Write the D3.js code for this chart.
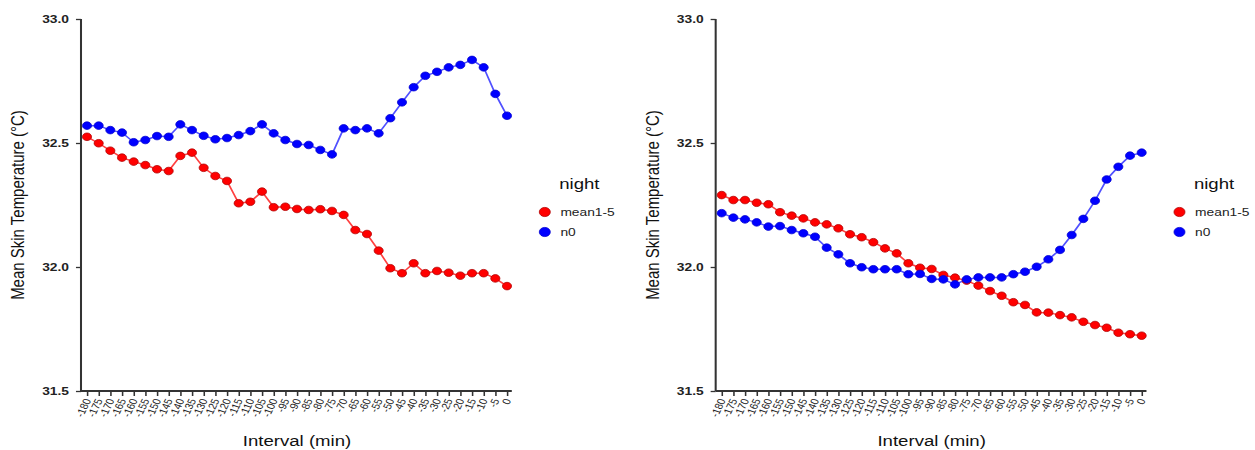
<html>
<head>
<script src="https://d3js.org/d3.v7.min.js"></script>
<style>
body { margin: 0; background: #fff; }
text { font-family: "Liberation Sans", Arial, sans-serif; }
</style>
</head>
<body>
<div class="chart"></div>
<script>
// x categories (minutes before sleep end) and y ticks
var intervals = [-180, -175, -170, -165, -160, -155, -150, -145, -140, -135, -130, -125, -120, -115, -110, -105, -100, -95, -90,
                 -85, -80, -75, -70, -65, -60, -55, -50, -45, -40, -35, -30, -25, -20, -15, -10, -5, 0];
var yTicks = [31.5, 32.0, 32.5, 33.0];
var groups = ["mean1-5", "n0"];

// left panel
var leftMean = [32.525, 32.499, 32.469, 32.441, 32.425, 32.411, 32.394, 32.387, 32.448, 32.461, 32.400, 32.367, 32.347, 32.257, 32.263, 32.304, 32.241, 32.243, 32.234,
                32.230, 32.233, 32.226, 32.210, 32.149, 32.133, 32.066, 31.995, 31.975, 32.015, 31.975, 31.984, 31.977, 31.965, 31.975, 31.975, 31.954, 31.923];
var leftN0 = [32.570, 32.570, 32.552, 32.542, 32.503, 32.512, 32.528, 32.525, 32.575, 32.552, 32.529, 32.515, 32.520, 32.532, 32.548, 32.575, 32.539, 32.512, 32.496,
              32.492, 32.472, 32.454, 32.559, 32.552, 32.559, 32.539, 32.600, 32.664, 32.725, 32.771, 32.787, 32.805, 32.815, 32.835, 32.805, 32.698, 32.610];
// right panel
var rightMean = [32.290, 32.270, 32.270, 32.259, 32.253, 32.221, 32.207, 32.196, 32.180, 32.172, 32.156, 32.132, 32.120, 32.100, 32.075, 32.055, 32.015, 31.997, 31.992,
                 31.968, 31.957, 31.945, 31.925, 31.903, 31.884, 31.858, 31.847, 31.817, 31.816, 31.806, 31.797, 31.779, 31.766, 31.755, 31.735, 31.729, 31.723];
var rightN0 = [32.217, 32.199, 32.192, 32.180, 32.163, 32.165, 32.149, 32.136, 32.122, 32.078, 32.051, 32.015, 31.999, 31.991, 31.991, 31.991, 31.971, 31.972, 31.952,
               31.950, 31.930, 31.950, 31.958, 31.958, 31.958, 31.971, 31.981, 32.001, 32.031, 32.069, 32.129, 32.194, 32.267, 32.353, 32.404, 32.449, 32.461];

var W = 1255, H = 450;
var S = 1.2; // the original picture is stretched sideways, so draw narrow and stretch

var svg = d3.select('.chart').append('svg')
  .attr('width', W).attr('height', H)
  .attr('viewBox', '0 0 ' + (W / S) + ' ' + H)
  .attr('preserveAspectRatio', 'none');

var pointColor = {"mean1-5": "#ff0000", "n0": "#0000ff"};
var pointStroke = {"mean1-5": "#b00000", "n0": "#0000d0"};
var lineColor = {"mean1-5": "#ff4040", "n0": "#5050ff"};

var xScale = d3.scalePoint().domain(intervals).range([5, 355]);
var yScale = d3.scaleLinear().domain([31.5, 33.0]).range([391, 19]);

var panels = [
  {x: 67.5, data: {"mean1-5": leftMean, "n0": leftN0}},
  {x: 596.4, data: {"mean1-5": rightMean, "n0": rightN0}}
];

panels.forEach(function (p) {
  var g = svg.append('g').attr('transform', 'translate(' + p.x + ',0)');

  // y axis
  var yAxis = d3.axisLeft(yScale).tickValues(yTicks).tickFormat(d3.format('.1f')).tickSize(4.2).tickPadding(5.8).tickSizeOuter(0);
  var ya = g.append('g').call(yAxis);
  ya.select('.domain').remove();
  ya.selectAll('line').attr('stroke', '#333').attr('stroke-width', 1.3);
  ya.selectAll('text').attr('font-size', 11.5).attr('fill', '#222').attr('font-weight', 'bold')
    .style('font-family', '"Liberation Sans", Arial, sans-serif');

  // x axis
  var xAxis = d3.axisBottom(xScale).tickSize(5).tickSizeOuter(0);
  var xa = g.append('g').attr('transform', 'translate(0,391)').call(xAxis);
  xa.select('.domain').remove();
  xa.selectAll('line').attr('stroke', '#333').attr('stroke-width', 1.3);
  xa.selectAll('text')
    .attr('y', 0).attr('x', 0).attr('dy', '0.35em')
    .attr('transform', 'translate(0,8) rotate(-68)')
    .attr('text-anchor', 'end')
    .attr('font-size', 9.5).attr('fill', '#222')
    .style('font-family', '"Liberation Sans", Arial, sans-serif');

  // axis lines
  g.append('line').attr('x1', 0).attr('x2', 0).attr('y1', yScale(33.0)).attr('y2', yScale(31.5))
    .attr('stroke', '#333').attr('stroke-width', 1.7);
  g.append('line').attr('x1', 0).attr('x2', 359).attr('y1', yScale(31.5)).attr('y2', yScale(31.5))
    .attr('stroke', '#333').attr('stroke-width', 2);

  // titles
  g.append('text').attr('transform', 'translate(-47.5,205) rotate(-90)')
    .attr('text-anchor', 'middle').attr('font-size', 15).attr('fill', '#111')
    .text('Mean Skin Temperature (°C)');
  g.append('text').attr('x', 180).attr('y', 446)
    .attr('text-anchor', 'middle').attr('font-size', 15.5).attr('fill', '#111')
    .text('Interval (min)');

  // lines and points
  var line = d3.line().x(function (d, i) { return xScale(intervals[i]); }).y(function (d) { return yScale(d); });
  groups.forEach(function (k) {
    g.append('path').attr('d', line(p.data[k])).attr('fill', 'none')
      .attr('stroke', lineColor[k]).attr('stroke-width', 1.5);
  });
  groups.forEach(function (k) {
    g.selectAll('.pt' + k.replace(/\W/g, '')).data(p.data[k]).enter().append('circle')
      .attr('cx', function (d, i) { return xScale(intervals[i]); })
      .attr('cy', function (d) { return yScale(d); })
      .attr('r', 3.8)
      .attr('fill', pointColor[k]).attr('stroke', pointStroke[k]).attr('stroke-width', 0.7);
  });

  // legend
  var lg = g.append('g').attr('transform', 'translate(386.5,0)');
  lg.append('text').attr('x', 12).attr('y', 189).attr('font-size', 15.5).attr('fill', '#111').text('night');
  groups.forEach(function (k, i) {
    lg.append('circle').attr('cx', 0).attr('cy', 212 + i * 20).attr('r', 4.6)
      .attr('fill', pointColor[k]).attr('stroke', pointStroke[k]).attr('stroke-width', 0.7);
    lg.append('text').attr('x', 13).attr('y', 216 + i * 20).attr('font-size', 11.5).attr('fill', '#222').text(k);
  });
});
</script>
</body>
</html>
